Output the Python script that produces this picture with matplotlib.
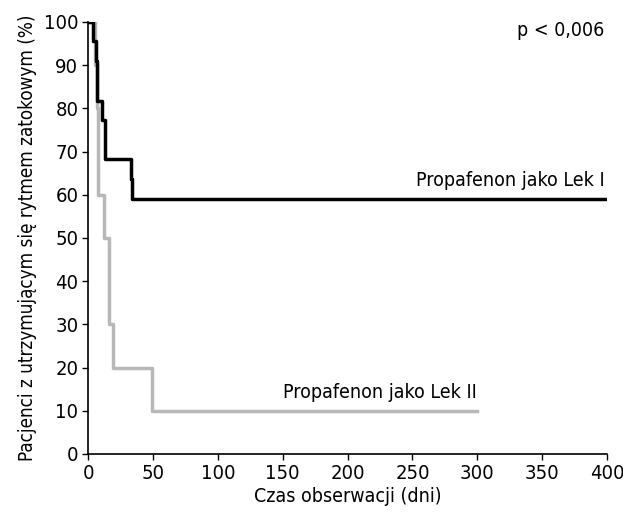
import matplotlib
matplotlib.use("Agg")
import matplotlib.pyplot as plt

plt.rcParams['font.family'] = ['DejaVu Sans']
plt.rcParams['font.stretch'] = 'condensed'

# Propafenon jako Lek I (black)
t1 = [0, 4, 6, 7, 11, 13, 33, 34, 400]
s1 = [100, 95.5, 90.9, 81.8, 77.3, 68.2, 63.6, 59.1, 59.1]

# Propafenon jako Lek II (gray)
t2 = [0, 5, 7, 8, 12, 16, 19.5, 49, 300]
s2 = [100, 90, 80, 60, 50, 30, 20, 10, 10]

xticks = [0, 50, 100, 150, 200, 250, 300, 350, 400]
yticks = [0, 10, 20, 30, 40, 50, 60, 70, 80, 90, 100]

fig = plt.figure(figsize=(6.23, 5.12), dpi=100)
ax = fig.add_axes([0.1413, 0.1133, 0.833, 0.844])

ax.step(t2, s2, where='post', color='#b8b8b8', lw=2.5)
ax.step(t1, s1, where='post', color='black', lw=2.5)

ax.set_xlim(0, 400)
ax.set_ylim(0, 100)
ax.set_xticks(xticks)
ax.set_yticks(yticks)
ax.tick_params(labelsize=14.5, length=4, width=1, direction='out', pad=3)
ax.spines['top'].set_visible(False)
ax.spines['right'].set_visible(False)
for s in ['left', 'bottom']:
    ax.spines[s].set_linewidth(1.2)

ax.set_xlabel('Czas obserwacji (dni)', fontsize=14, labelpad=3)
ax.set_ylabel('Pacjenci z utrzymującym się rytmem zatokowym (%)', fontsize=13.5, labelpad=5)

ax.text(398, 61, 'Propafenon jako Lek I', ha='right', va='bottom', fontsize=14)
ax.text(300, 12, 'Propafenon jako Lek II', ha='right', va='bottom', fontsize=14)
ax.text(398, 98, 'p < 0,006', ha='right', va='center', fontsize=14)

fig.savefig('out.png', dpi=100)
